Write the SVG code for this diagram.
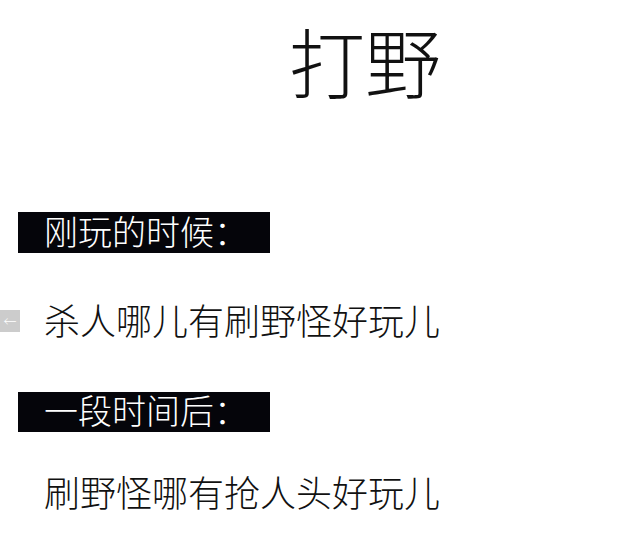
<svg xmlns="http://www.w3.org/2000/svg" width="640" height="554" viewBox="0 0 640 554">
<style>
text{font-family:"Noto Sans CJK SC","Noto Sans",sans-serif;font-weight:300}
.h{fill:#fff;font-size:34px}
.b{fill:#111;font-size:36px}
</style>
<rect width="640" height="554" fill="#fff"/>
<g id="title"><text x="365" y="93" text-anchor="middle" font-size="76" fill="#111">打野</text></g>
<g id="h1"><rect x="18" y="212" width="252" height="41" fill="#05050a"/><text class="h" x="44" y="245">刚玩的时候：</text></g>
<g id="nav"><rect x="0" y="310" width="20" height="22" fill="#ccc"/><text x="10" y="326" font-size="13" fill="#fff" text-anchor="middle">←</text></g>
<g id="b1"><text class="b" x="44" y="335">杀人哪儿有刷野怪好玩儿</text></g>
<g id="h2"><rect x="18" y="392" width="252" height="40" fill="#05050a"/><text class="h" x="44" y="424">一段时间后：</text></g>
<g id="b2"><text class="b" x="44" y="507">刷野怪哪有抢人头好玩儿</text></g>
<g id="connectors"/>
</svg>
